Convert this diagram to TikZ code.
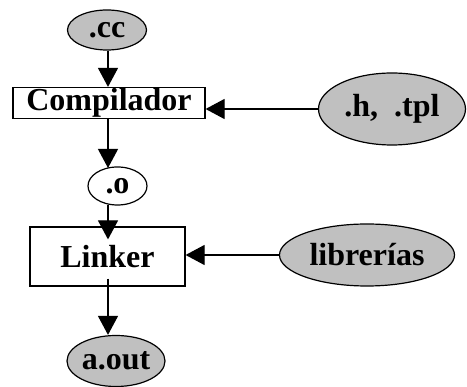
\documentclass[tikz,border=0pt]{standalone}
\usepackage{fontspec}
\setmainfont{Liberation Serif}
\usetikzlibrary{shapes.geometric,arrows.meta}
\definecolor{filegray}{RGB}{192,192,192}
\tikzset{
  file/.style={ellipse,draw,line width=1.2pt,fill=filegray,inner sep=0pt},
  tool/.style={rectangle,draw,line width=1.2pt,inner sep=0pt},
  flow/.style={line width=1.2pt,-{Triangle[width=20pt,length=19pt]}}
}
\begin{document}
\begin{tikzpicture}[x=1pt,y=-1pt,font=\fontsize{32}{37}\selectfont\bfseries]
\useasboundingbox (0,0) rectangle (467,387);
\node[file,minimum width=79pt,minimum height=40pt] (cc) at (107,30) {.cc};
\node[tool,minimum width=192pt,minimum height=31pt] (comp) at (109,103) {Compilador};
\node[file,fill=white,minimum width=59pt,minimum height=38pt] (o) at (117.5,186) {.o};
\node[tool,minimum width=155pt,minimum height=59pt] (link) at (107.5,256.5) {Linker};
\node[file,minimum width=98pt,minimum height=51pt] (aout) at (116,361) {a.out};
\node[file,minimum width=147pt,minimum height=72pt] (htpl) at (392,109) {.h,\ \ .tpl};
\node[file,minimum width=175pt,minimum height=62pt] (lib) at (367,255) {librer\'ias};
\draw[flow] (cc.south -| 108,0) -- (108,0 |- comp.north);
\draw[flow] (108,0 |- comp.south) -- (108,168);
\draw[flow] (108,205) -- ([yshift=-13pt]108,0 |- link.north);
\draw[flow] ([yshift=8pt]108,0 |- link.south) -- (108,0 |- aout.north);
\draw[flow] (htpl.west) -- (htpl.west -| comp.east);
\draw[flow] (lib.west) -- (lib.west -| link.east);
\end{tikzpicture}
\end{document}
